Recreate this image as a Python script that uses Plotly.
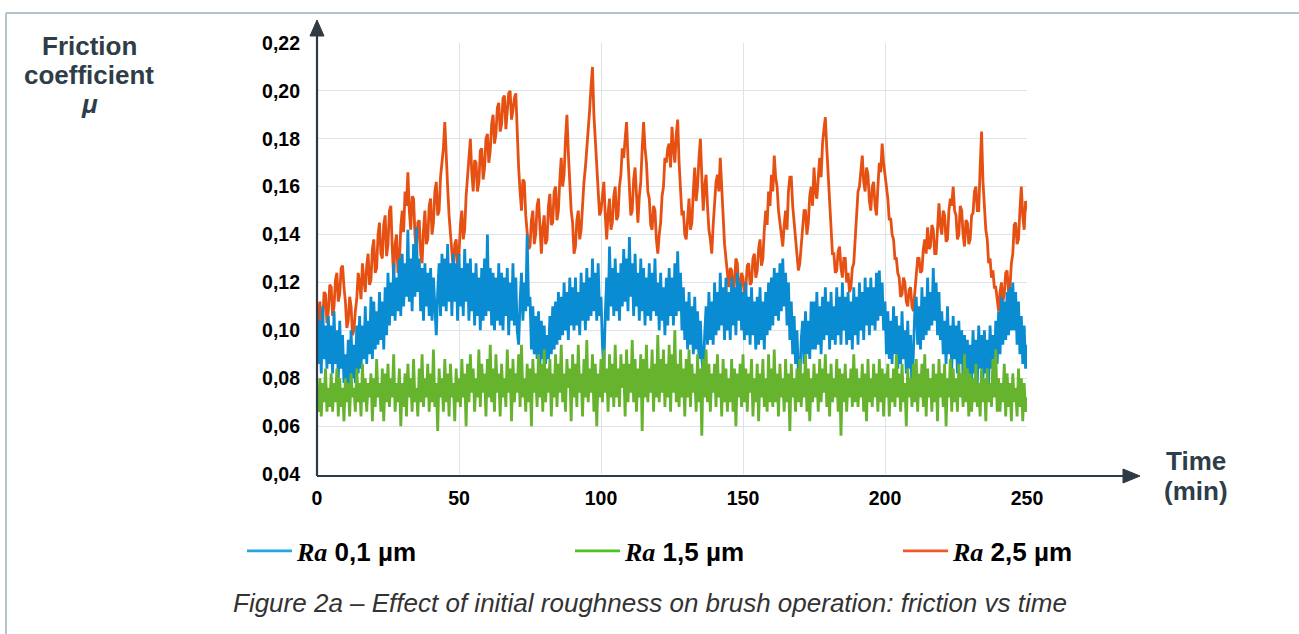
import plotly.graph_objects as go

# ---------------- data ----------------
time_min = [i * 0.5 for i in range(501)]  # sampling grid, 0.5 min

mu_ra01 = [
    0.108, 0.086, 0.104, 0.082, 0.110, 0.088, 0.102, 0.084, 0.106, 0.086,
    0.102, 0.082, 0.108, 0.086, 0.100, 0.080, 0.104, 0.084, 0.098, 0.078,
    0.090, 0.075, 0.096, 0.078, 0.100, 0.080, 0.094, 0.078, 0.102, 0.082,
    0.106, 0.084, 0.102, 0.088, 0.110, 0.086, 0.104, 0.090, 0.114, 0.088,
    0.112, 0.092, 0.108, 0.094, 0.116, 0.096, 0.112, 0.092, 0.118, 0.098,
    0.124, 0.102, 0.120, 0.106, 0.128, 0.104, 0.122, 0.108, 0.130, 0.106,
    0.132, 0.110, 0.128, 0.114, 0.142, 0.112, 0.130, 0.108, 0.136, 0.114,
    0.143, 0.116, 0.130, 0.108, 0.126, 0.104, 0.128, 0.110, 0.124, 0.106,
    0.126, 0.104, 0.122, 0.106, 0.098, 0.116, 0.128, 0.106, 0.132, 0.110,
    0.130, 0.108, 0.136, 0.112, 0.128, 0.106, 0.132, 0.112, 0.128, 0.104,
    0.132, 0.110, 0.126, 0.106, 0.134, 0.112, 0.128, 0.104, 0.130, 0.108,
    0.124, 0.102, 0.128, 0.106, 0.122, 0.100, 0.126, 0.104, 0.130, 0.106,
    0.140, 0.108, 0.126, 0.102, 0.124, 0.100, 0.122, 0.104, 0.128, 0.102,
    0.124, 0.100, 0.122, 0.106, 0.126, 0.098, 0.120, 0.104, 0.128, 0.102,
    0.122, 0.100, 0.094, 0.112, 0.124, 0.104, 0.120, 0.108, 0.140, 0.110,
    0.114, 0.092, 0.110, 0.090, 0.106, 0.088, 0.108, 0.086, 0.104, 0.088,
    0.102, 0.086, 0.098, 0.088, 0.106, 0.090, 0.110, 0.092, 0.112, 0.094,
    0.116, 0.096, 0.114, 0.098, 0.120, 0.100, 0.116, 0.096, 0.122, 0.102,
    0.118, 0.100, 0.122, 0.102, 0.116, 0.098, 0.124, 0.104, 0.120, 0.100,
    0.126, 0.104, 0.122, 0.106, 0.130, 0.108, 0.124, 0.104, 0.128, 0.106,
    0.114, 0.094, 0.085, 0.106, 0.122, 0.104, 0.135, 0.110, 0.126, 0.106,
    0.130, 0.108, 0.124, 0.104, 0.128, 0.110, 0.134, 0.112, 0.130, 0.108,
    0.139, 0.114, 0.128, 0.106, 0.132, 0.110, 0.124, 0.104, 0.130, 0.108,
    0.126, 0.102, 0.122, 0.106, 0.128, 0.104, 0.124, 0.108, 0.130, 0.106,
    0.120, 0.100, 0.124, 0.104, 0.118, 0.098, 0.122, 0.102, 0.126, 0.106,
    0.122, 0.102, 0.128, 0.106, 0.133, 0.108, 0.124, 0.100, 0.118, 0.096,
    0.112, 0.092, 0.116, 0.094, 0.110, 0.090, 0.114, 0.092, 0.108, 0.088,
    0.104, 0.088, 0.082, 0.098, 0.110, 0.094, 0.116, 0.096, 0.112, 0.094,
    0.120, 0.098, 0.116, 0.100, 0.124, 0.102, 0.118, 0.096, 0.122, 0.100,
    0.116, 0.096, 0.122, 0.102, 0.118, 0.098, 0.124, 0.104, 0.120, 0.100,
    0.116, 0.096, 0.120, 0.098, 0.114, 0.094, 0.118, 0.098, 0.112, 0.092,
    0.114, 0.094, 0.118, 0.096, 0.112, 0.092, 0.116, 0.098, 0.120, 0.100,
    0.122, 0.102, 0.126, 0.106, 0.124, 0.104, 0.128, 0.108, 0.130, 0.110,
    0.124, 0.102, 0.120, 0.096, 0.112, 0.090, 0.106, 0.086, 0.100, 0.082,
    0.078, 0.096, 0.104, 0.086, 0.108, 0.090, 0.104, 0.088, 0.112, 0.092,
    0.112, 0.092, 0.116, 0.094, 0.110, 0.090, 0.114, 0.096, 0.118, 0.098,
    0.112, 0.092, 0.116, 0.096, 0.110, 0.094, 0.118, 0.098, 0.114, 0.094,
    0.120, 0.100, 0.114, 0.094, 0.116, 0.096, 0.112, 0.092, 0.118, 0.098,
    0.114, 0.094, 0.120, 0.100, 0.116, 0.096, 0.122, 0.102, 0.118, 0.098,
    0.122, 0.102, 0.118, 0.100, 0.124, 0.104, 0.125, 0.106, 0.120, 0.100,
    0.112, 0.090, 0.108, 0.088, 0.104, 0.086, 0.110, 0.090, 0.106, 0.084,
    0.102, 0.086, 0.108, 0.088, 0.100, 0.082, 0.104, 0.084, 0.098, 0.074,
    0.096, 0.108, 0.114, 0.094, 0.110, 0.092, 0.118, 0.096, 0.114, 0.098,
    0.122, 0.100, 0.116, 0.102, 0.126, 0.104, 0.120, 0.098, 0.116, 0.096,
    0.108, 0.090, 0.104, 0.086, 0.110, 0.090, 0.102, 0.084, 0.106, 0.088,
    0.102, 0.082, 0.104, 0.086, 0.100, 0.080, 0.098, 0.084, 0.096, 0.075,
    0.094, 0.078, 0.100, 0.082, 0.096, 0.078, 0.102, 0.084, 0.098, 0.080,
    0.100, 0.082, 0.096, 0.078, 0.102, 0.084, 0.098, 0.080, 0.104, 0.086,
    0.108, 0.090, 0.114, 0.094, 0.112, 0.096, 0.116, 0.098, 0.118, 0.100,
    0.120, 0.100, 0.116, 0.094, 0.112, 0.090, 0.106, 0.086, 0.102, 0.084,
    0.094,
]

mu_ra15 = [
    0.072, 0.066, 0.080, 0.064, 0.078, 0.070, 0.084, 0.066, 0.076, 0.068,
    0.082, 0.066, 0.078, 0.070, 0.084, 0.064, 0.080, 0.068, 0.076, 0.062,
    0.080, 0.070, 0.078, 0.064, 0.082, 0.072, 0.076, 0.066, 0.084, 0.070,
    0.078, 0.064, 0.086, 0.070, 0.080, 0.066, 0.078, 0.072, 0.082, 0.062,
    0.080, 0.068, 0.088, 0.072, 0.078, 0.066, 0.084, 0.062, 0.082, 0.070,
    0.086, 0.068, 0.080, 0.072, 0.090, 0.066, 0.078, 0.070, 0.084, 0.060,
    0.078, 0.068, 0.082, 0.064, 0.086, 0.072, 0.080, 0.066, 0.088, 0.070,
    0.076, 0.064, 0.084, 0.070, 0.090, 0.068, 0.080, 0.072, 0.086, 0.066,
    0.082, 0.070, 0.092, 0.068, 0.078, 0.058, 0.084, 0.072, 0.080, 0.066,
    0.088, 0.070, 0.082, 0.064, 0.086, 0.072, 0.078, 0.062, 0.084, 0.070,
    0.080, 0.068, 0.088, 0.072, 0.082, 0.060, 0.086, 0.070, 0.090, 0.074,
    0.084, 0.066, 0.080, 0.072, 0.092, 0.068, 0.086, 0.074, 0.082, 0.064,
    0.088, 0.072, 0.094, 0.070, 0.084, 0.066, 0.090, 0.074, 0.082, 0.064,
    0.086, 0.072, 0.080, 0.068, 0.092, 0.074, 0.084, 0.062, 0.088, 0.070,
    0.082, 0.074, 0.090, 0.068, 0.094, 0.072, 0.080, 0.066, 0.086, 0.070,
    0.084, 0.060, 0.088, 0.074, 0.082, 0.068, 0.090, 0.072, 0.086, 0.066,
    0.092, 0.070, 0.084, 0.074, 0.088, 0.064, 0.082, 0.072, 0.090, 0.068,
    0.086, 0.074, 0.094, 0.070, 0.082, 0.066, 0.088, 0.076, 0.084, 0.062,
    0.090, 0.072, 0.086, 0.068, 0.094, 0.074, 0.082, 0.064, 0.088, 0.072,
    0.096, 0.070, 0.084, 0.074, 0.090, 0.066, 0.086, 0.060, 0.082, 0.072,
    0.088, 0.070, 0.092, 0.074, 0.084, 0.066, 0.090, 0.072, 0.086, 0.068,
    0.094, 0.072, 0.084, 0.068, 0.090, 0.076, 0.086, 0.064, 0.092, 0.070,
    0.086, 0.074, 0.096, 0.070, 0.088, 0.066, 0.084, 0.072, 0.090, 0.058,
    0.088, 0.072, 0.094, 0.070, 0.084, 0.074, 0.092, 0.066, 0.086, 0.072,
    0.098, 0.070, 0.088, 0.074, 0.092, 0.068, 0.086, 0.072, 0.094, 0.066,
    0.090, 0.074, 0.100, 0.070, 0.086, 0.068, 0.092, 0.072, 0.084, 0.064,
    0.088, 0.072, 0.092, 0.068, 0.086, 0.074, 0.082, 0.066, 0.090, 0.070,
    0.084, 0.056, 0.088, 0.072, 0.092, 0.070, 0.086, 0.066, 0.082, 0.074,
    0.086, 0.068, 0.090, 0.072, 0.082, 0.064, 0.088, 0.070, 0.084, 0.066,
    0.080, 0.070, 0.088, 0.066, 0.084, 0.060, 0.082, 0.072, 0.086, 0.068,
    0.090, 0.070, 0.084, 0.066, 0.082, 0.074, 0.088, 0.064, 0.080, 0.070,
    0.086, 0.062, 0.082, 0.072, 0.088, 0.068, 0.080, 0.066, 0.090, 0.070,
    0.084, 0.068, 0.092, 0.070, 0.082, 0.064, 0.086, 0.072, 0.080, 0.066,
    0.088, 0.070, 0.082, 0.058, 0.086, 0.072, 0.080, 0.066, 0.084, 0.070,
    0.088, 0.068, 0.082, 0.072, 0.090, 0.066, 0.084, 0.062, 0.080, 0.070,
    0.086, 0.072, 0.082, 0.066, 0.088, 0.070, 0.084, 0.074, 0.090, 0.068,
    0.082, 0.064, 0.086, 0.070, 0.080, 0.072, 0.088, 0.066, 0.084, 0.056,
    0.082, 0.070, 0.086, 0.066, 0.080, 0.072, 0.084, 0.068, 0.090, 0.070,
    0.084, 0.068, 0.080, 0.072, 0.086, 0.066, 0.082, 0.062, 0.088, 0.070,
    0.080, 0.068, 0.086, 0.072, 0.082, 0.066, 0.088, 0.070, 0.084, 0.064,
    0.082, 0.072, 0.086, 0.064, 0.080, 0.070, 0.084, 0.068, 0.090, 0.072,
    0.082, 0.066, 0.086, 0.070, 0.078, 0.060, 0.084, 0.072, 0.080, 0.068,
    0.086, 0.070, 0.088, 0.066, 0.082, 0.072, 0.086, 0.068, 0.090, 0.064,
    0.084, 0.072, 0.080, 0.066, 0.086, 0.070, 0.082, 0.062, 0.088, 0.072,
    0.082, 0.068, 0.086, 0.060, 0.080, 0.072, 0.088, 0.066, 0.084, 0.070,
    0.080, 0.066, 0.086, 0.072, 0.082, 0.068, 0.090, 0.070, 0.084, 0.064,
    0.082, 0.066, 0.080, 0.070, 0.086, 0.068, 0.078, 0.064, 0.084, 0.070,
    0.080, 0.062, 0.084, 0.070, 0.078, 0.068, 0.088, 0.072, 0.092, 0.066,
    0.080, 0.066, 0.078, 0.070, 0.086, 0.064, 0.082, 0.068, 0.078, 0.062,
    0.082, 0.070, 0.076, 0.064, 0.084, 0.068, 0.080, 0.062, 0.078, 0.066,
    0.072,
]

mu_ra25 = [
    0.100, 0.108, 0.112, 0.098, 0.104, 0.116, 0.115, 0.103, 0.108, 0.119,
    0.118, 0.106, 0.110, 0.121, 0.124, 0.112, 0.115, 0.126, 0.127, 0.118,
    0.112, 0.101, 0.104, 0.114, 0.110, 0.098, 0.100, 0.108, 0.113, 0.124,
    0.120, 0.113, 0.128, 0.121, 0.116, 0.127, 0.132, 0.119, 0.121, 0.134,
    0.138, 0.124, 0.126, 0.140, 0.145, 0.132, 0.130, 0.144, 0.148, 0.131,
    0.136, 0.150, 0.152, 0.134, 0.122, 0.136, 0.140, 0.124, 0.128, 0.143,
    0.150, 0.141, 0.158, 0.152, 0.166, 0.150, 0.142, 0.156, 0.155, 0.140,
    0.132, 0.145, 0.146, 0.132, 0.128, 0.142, 0.150, 0.136, 0.138, 0.152,
    0.155, 0.140, 0.145, 0.158, 0.162, 0.148, 0.150, 0.164, 0.170, 0.176,
    0.187, 0.170, 0.160, 0.148, 0.140, 0.130, 0.125, 0.136, 0.138, 0.126,
    0.132, 0.144, 0.150, 0.138, 0.142, 0.156, 0.165, 0.172, 0.180, 0.166,
    0.158, 0.171, 0.170, 0.158, 0.162, 0.175, 0.176, 0.163, 0.168, 0.180,
    0.182, 0.170, 0.175, 0.186, 0.190, 0.178, 0.182, 0.193, 0.195, 0.183,
    0.186, 0.197, 0.198, 0.184, 0.190, 0.199, 0.200, 0.188, 0.192, 0.197,
    0.199, 0.182, 0.168, 0.158, 0.150, 0.163, 0.162, 0.148, 0.142, 0.134,
    0.135, 0.146, 0.150, 0.136, 0.140, 0.152, 0.155, 0.141, 0.132, 0.143,
    0.148, 0.136, 0.138, 0.152, 0.157, 0.144, 0.145, 0.158, 0.160, 0.146,
    0.150, 0.163, 0.172, 0.160, 0.165, 0.180, 0.190, 0.174, 0.160, 0.150,
    0.145, 0.132, 0.135, 0.146, 0.150, 0.138, 0.142, 0.155, 0.162, 0.168,
    0.175, 0.184, 0.192, 0.202, 0.210, 0.190, 0.178, 0.166, 0.160, 0.148,
    0.150, 0.158, 0.162, 0.148, 0.138, 0.149, 0.155, 0.142, 0.145, 0.156,
    0.160, 0.146, 0.148, 0.160, 0.165, 0.176, 0.172, 0.180, 0.187, 0.172,
    0.160, 0.148, 0.150, 0.163, 0.168, 0.154, 0.145, 0.156, 0.162, 0.176,
    0.187, 0.176, 0.170, 0.158, 0.155, 0.144, 0.142, 0.152, 0.150, 0.138,
    0.132, 0.140, 0.145, 0.156, 0.160, 0.172, 0.170, 0.176, 0.178, 0.168,
    0.185, 0.176, 0.170, 0.182, 0.188, 0.170, 0.158, 0.148, 0.150, 0.140,
    0.138, 0.148, 0.155, 0.142, 0.145, 0.158, 0.168, 0.154, 0.160, 0.172,
    0.180, 0.164, 0.150, 0.160, 0.165, 0.152, 0.142, 0.138, 0.132, 0.144,
    0.155, 0.162, 0.165, 0.158, 0.172, 0.160, 0.145, 0.136, 0.130, 0.122,
    0.118, 0.126, 0.125, 0.116, 0.120, 0.130, 0.128, 0.119, 0.115, 0.124,
    0.122, 0.114, 0.118, 0.127, 0.128, 0.119, 0.120, 0.130, 0.132, 0.122,
    0.125, 0.134, 0.138, 0.127, 0.130, 0.142, 0.150, 0.144, 0.158, 0.152,
    0.165, 0.158, 0.173, 0.164, 0.160, 0.150, 0.145, 0.138, 0.135, 0.144,
    0.150, 0.142, 0.158, 0.164, 0.164, 0.152, 0.145, 0.136, 0.132, 0.125,
    0.128, 0.136, 0.140, 0.150, 0.150, 0.140, 0.145, 0.156, 0.160, 0.152,
    0.168, 0.158, 0.155, 0.166, 0.172, 0.164, 0.178, 0.184, 0.189, 0.176,
    0.165, 0.150, 0.140, 0.132, 0.132, 0.124, 0.125, 0.133, 0.135, 0.126,
    0.122, 0.130, 0.130, 0.120, 0.124, 0.116, 0.118, 0.126, 0.128, 0.140,
    0.150, 0.158, 0.160, 0.168, 0.173, 0.162, 0.158, 0.168, 0.165, 0.154,
    0.150, 0.160, 0.162, 0.152, 0.148, 0.160, 0.170, 0.166, 0.178, 0.170,
    0.165, 0.158, 0.155, 0.146, 0.147, 0.140, 0.138, 0.130, 0.130, 0.124,
    0.122, 0.114, 0.115, 0.122, 0.120, 0.112, 0.110, 0.117, 0.118, 0.110,
    0.108, 0.116, 0.122, 0.130, 0.130, 0.124, 0.125, 0.134, 0.138, 0.132,
    0.143, 0.134, 0.135, 0.144, 0.142, 0.132, 0.132, 0.146, 0.153, 0.144,
    0.140, 0.150, 0.148, 0.137, 0.138, 0.150, 0.155, 0.152, 0.160, 0.150,
    0.148, 0.138, 0.140, 0.152, 0.150, 0.140, 0.135, 0.146, 0.145, 0.136,
    0.138, 0.148, 0.149, 0.158, 0.160, 0.150, 0.150, 0.168, 0.183, 0.162,
    0.150, 0.142, 0.138, 0.128, 0.130, 0.122, 0.125, 0.118, 0.118, 0.112,
    0.108, 0.116, 0.120, 0.112, 0.115, 0.124, 0.125, 0.116, 0.118, 0.128,
    0.132, 0.144, 0.145, 0.136, 0.138, 0.150, 0.160, 0.148, 0.142, 0.154,
    0.150,
]

series_names = [
    '<span style="font-family:Liberation Serif;font-style:italic">Ra</span> 0,1 µm',
    '<span style="font-family:Liberation Serif;font-style:italic">Ra</span> 1,5 µm',
    '<span style="font-family:Liberation Serif;font-style:italic">Ra</span> 2,5 µm',
]
series_colors = ["#0a8cd2", "#66b32e", "#e65113"]   # data lines
legend_colors = ["#27a6e4", "#4cc424", "#ee5a26"]   # legend key lines (brighter)

x_ticks = [0, 50, 100, 150, 200, 250]
y_ticks = [0.04, 0.06, 0.08, 0.10, 0.12, 0.14, 0.16, 0.18, 0.20, 0.22]

# ---------------- layout geometry (pixels) ----------------
W, H = 1299, 634
L, R, T, B = 317, 1027, 43, 474          # plot area
def px(x):
    return (x - L) / (R - L)
def py(y):
    return (B - y) / (B - T)

AXIS = "#2e3b45"
TITLE = "#2e3d47"
SANS = "Liberation Sans, Arial, sans-serif"

fig = go.Figure()
# draw order: orange (bottom), blue, green (top)
for vals, col in [
    (mu_ra25, series_colors[2]),
    (mu_ra01, series_colors[0]),
    (mu_ra15, series_colors[1]),
]:
    fig.add_trace(go.Scatter(
        x=time_min, y=vals, mode="lines", showlegend=False,
        line=dict(color=col, width=2.8), hoverinfo="skip",
    ))
# legend keys
for name, col in zip(series_names, legend_colors):
    fig.add_trace(go.Scatter(
        x=[None], y=[None], mode="lines", name=name,
        line=dict(color=col, width=2.8), hoverinfo="skip",
    ))

shapes = [
    # outer frame (top and left edges)
    dict(type="line", xref="paper", yref="paper", x0=px(6), x1=px(1305), y0=py(13), y1=py(13),
         line=dict(color="#b5c3ca", width=2)),
    dict(type="line", xref="paper", yref="paper", x0=px(6), x1=px(6), y0=py(13), y1=py(645),
         line=dict(color="#b5c3ca", width=2)),
    # axis lines
    dict(type="line", xref="paper", yref="paper", x0=0, x1=0, y0=py(476), y1=py(32),
         line=dict(color=AXIS, width=2.2), layer="above"),
    dict(type="line", xref="paper", yref="paper", x0=0, x1=px(1128), y0=py(476), y1=py(476),
         line=dict(color=AXIS, width=2.2), layer="above"),
    # arrow heads
    dict(type="path", xref="paper", yref="paper",
         path=f"M {px(317)} {py(20)} L {px(310)} {py(36)} L {px(324)} {py(36)} Z",
         fillcolor=AXIS, line=dict(color=AXIS, width=1), layer="above"),
    dict(type="path", xref="paper", yref="paper",
         path=f"M {px(1140)} {py(476)} L {px(1123)} {py(469)} L {px(1123)} {py(483)} Z",
         fillcolor=AXIS, line=dict(color=AXIS, width=1), layer="above"),
]

def label(text, x, y, size, color, family=SANS):
    return dict(text=text, x=px(x), y=py(y), xref="paper", yref="paper",
                showarrow=False, xanchor="center", yanchor="middle",
                font=dict(family=family, size=size, color=color))

annotations = [
    label("<b>Friction</b>", 89, 46, 26, TITLE),
    label("<b>coefficient</b>", 89, 75, 26, TITLE),
    label("<b><i>μ</i></b>", 89, 104, 26, TITLE),
    label("<b>Time</b>", 1196, 461, 26, TITLE),
    label("<b>(min)</b>", 1196, 491, 26, TITLE),
    label("<i>Figure 2a – Effect of initial roughness on brush operation: friction vs time</i>",
          650, 603, 26, "#333333"),
]

fig.update_layout(
    width=W, height=H,
    margin=dict(l=L, r=W - R, t=T, b=H - B, pad=0),
    paper_bgcolor="white", plot_bgcolor="white",
    separators=",.",
    showlegend=True,
    legend=dict(
        orientation="h", x=px(242), y=py(551), xanchor="left", yanchor="middle",
        entrywidth=268, entrywidthmode="pixels", itemwidth=45,
        font=dict(family=SANS, size=26, color="#000000", weight="bold"),
        bgcolor="rgba(0,0,0,0)", borderwidth=0, traceorder="normal",
    ),
    xaxis=dict(
        range=[0, 250], tickvals=x_ticks, ticks="", showline=False, zeroline=False,
        showgrid=True, gridcolor="#dde3e7", gridwidth=1,
        tickfont=dict(family=SANS, size=19.5, color="#000000", weight="bold"),
        ticklabelstandoff=10,
    ),
    yaxis=dict(
        range=[0.04, 0.22], tickvals=y_ticks, tickformat=".2f", ticks="",
        showline=False, zeroline=False,
        showgrid=True, gridcolor="#dde3e7", gridwidth=1,
        tickfont=dict(family=SANS, size=19.5, color="#000000", weight="bold"),
        ticklabelstandoff=16,
    ),
    shapes=shapes, annotations=annotations,
)

fig.write_html(
    "out.html",
    config={"displayModeBar": False},
    post_script="document.body.style.margin='0';document.body.style.overflow='hidden';",
)
